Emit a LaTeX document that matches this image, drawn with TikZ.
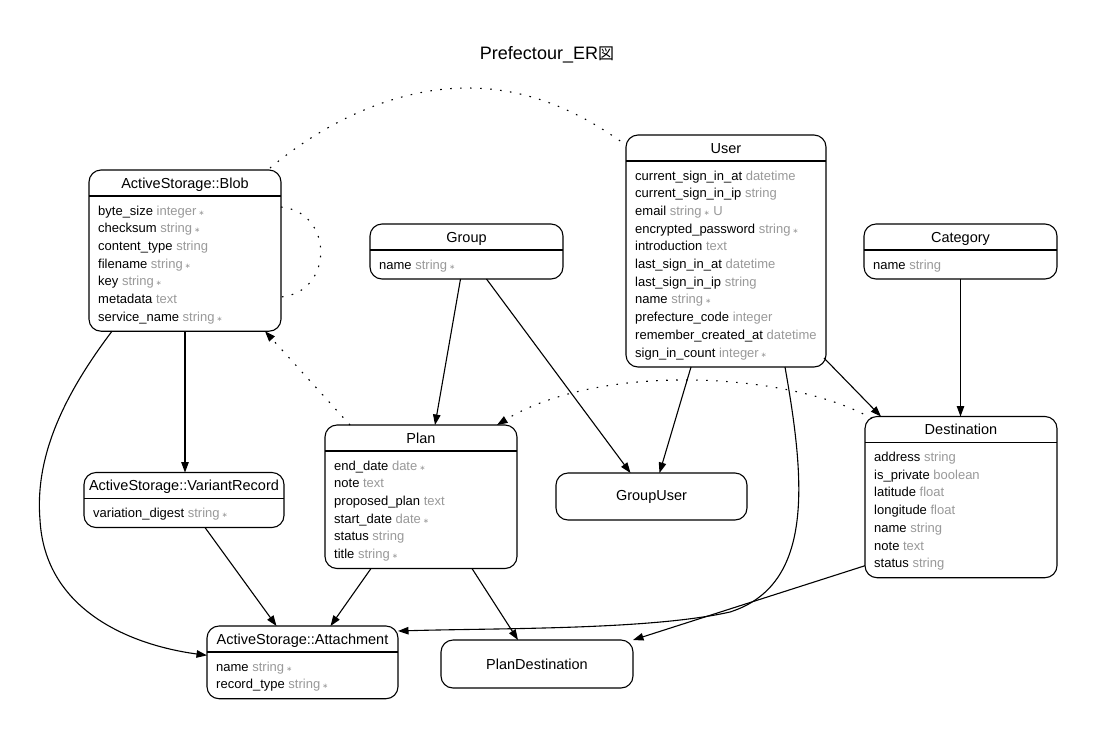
\documentclass[tikz,border=0pt]{standalone}
\usepackage{fontspec}
\setmainfont{Liberation Sans}
\newfontfamily\cjkfont{Noto Sans CJK JP}
\newfontfamily\symbfont{DejaVu Sans}
\usetikzlibrary{arrows.meta,calc}
\definecolor{typegray}{HTML}{999999}

% column type in grey, and the small mark for NOT NULL columns
\newcommand\ty[1]{\textcolor{typegray}{#1}}
\newcommand\nn{\textcolor{typegray}{\,{\symbfont\fontsize{7}{7}\selectfont ∗}}}

\tikzset{
  ebox/.style={draw, line width=1.1pt, rounded corners=12pt, inner sep=0pt,
               outer sep=0pt, anchor=north west},
  plainbox/.style={draw, line width=1.1pt, rounded corners=12pt, inner sep=0pt,
               outer sep=0pt, font=\fontsize{14.5}{14.5}\selectfont},
  boxline/.style={line width=1.1pt},
  etitle/.style={font=\fontsize{14.5}{14.5}\selectfont, inner sep=0pt, anchor=base},
  eattr/.style={font=\fontsize{13}{13}\selectfont, inner sep=0pt, anchor=base west},
  tip/.style={-{Triangle[length=10.5pt,width=7.5pt]}},
  rel/.style={line width=1.1pt, tip},
  poly/.style={line width=1.1pt, dash pattern=on 1.6pt off 8.4pt},
  polyarrow/.style={poly, tip},
}

% #1 name, #2 left, #3 top, #4 width, #5 number of columns, #6 title, #7 columns
\newcommand\erentity[7]{%
  \pgfmathsetmacro\erheight{26+29+(#5-1)*17.7}%
  \node[ebox, minimum width=#4pt, minimum height=\erheight pt] (#1) at (#2,#3) {};
  \draw[boxline] ($(#1.north west)+(0,26)$) -- ($(#1.north east)+(0,26)$);
  \node[etitle] (#1-title) at ($(#1.north)+(0,18.2)$) {#6};
  \foreach \a [count=\i from 0] in {#7} {
    \node[eattr] (#1-attr\i) at ($(#1.north west)+(9,45+\i*17.7)$) {\a};
  }
}

\begin{document}
\begin{tikzpicture}[x=1pt,y=-1pt]
\fill[white] (0,0) rectangle (1096,740);
\useasboundingbox (0,0) rectangle (1096,740);

\node[font=\fontsize{18}{18}\selectfont, anchor=base, inner sep=0pt] (title)
  at (547,59.5) {Prefectour\_ER{\cjkfont\fontsize{16}{16}\selectfont 図}};

% entities
\erentity{blob}{89}{170}{192}{7}{ActiveStorage::Blob}{byte\_size \ty{integer}\nn, checksum \ty{string}\nn, content\_type \ty{string}, filename \ty{string}\nn, key \ty{string}\nn, metadata \ty{text}, service\_name \ty{string}\nn}

\erentity{user}{626}{135}{200}{11}{User}{current\_sign\_in\_at \ty{datetime}, current\_sign\_in\_ip \ty{string}, email \ty{string}\nn\ \ty{U}, encrypted\_password \ty{string}\nn, introduction \ty{text}, last\_sign\_in\_at \ty{datetime}, last\_sign\_in\_ip \ty{string}, name \ty{string}\nn, prefecture\_code \ty{integer}, remember\_created\_at \ty{datetime}, sign\_in\_count \ty{integer}\nn}

\erentity{group}{370}{224}{193}{1}{Group}{name \ty{string}\nn}

\erentity{cat}{864}{224}{193}{1}{Category}{name \ty{string}}

\erentity{plan}{325}{425}{192}{6}{Plan}{end\_date \ty{date}\nn, note \ty{text}, proposed\_plan \ty{text}, start\_date \ty{date}\nn, status \ty{string}, title \ty{string}\nn}

\erentity{dest}{865}{416.5}{192}{7}{Destination}{address \ty{string}, is\_private \ty{boolean}, latitude \ty{float}, longitude \ty{float}, name \ty{string}, note \ty{text}, status \ty{string}}

\erentity{vr}{84}{472.5}{200}{1}{ActiveStorage::VariantRecord}{variation\_digest \ty{string}\nn}

\erentity{att}{207}{626}{191}{2}{ActiveStorage::Attachment}{name \ty{string}\nn, record\_type \ty{string}\nn}

\node[plainbox, minimum width=191pt, minimum height=47pt] (gu) at (651.5,496.5) {GroupUser};
\node[plainbox, minimum width=192pt, minimum height=48pt] (pd) at (537,664) {PlanDestination};

% associations
\draw[rel] (blob.south) -- (blob.south |- vr.north);
\draw[rel] ([xshift=-73pt]blob.south) .. controls (60,400) and (35,460) .. (40,520)
  .. controls (45,610) and (130,645) .. ([yshift=7pt]att.west);
\draw[rel] ([xshift=21pt]vr.south) -- ([xshift=-26pt]att.north);
\draw[rel] ([xshift=-50pt]plan.south) -- ([xshift=28pt]att.north);
\draw[rel] ([xshift=51pt]plan.south) -- ([xshift=-19pt]pd.north);
\draw[rel] ([xshift=-6pt]group.south) -- ([xshift=14pt]plan.north);
\draw[rel] ([xshift=20pt]group.south) -- ([xshift=-21pt]gu.north);
\draw[rel] (cat.south) -- (cat.south |- dest.north);
\draw[rel] ([xshift=-2pt,yshift=9pt]user.south east) -- ([xshift=16pt]dest.north west);
\draw[rel] ([xshift=-35pt]user.south) -- ([xshift=8pt]gu.north);
\draw[rel] ([xshift=59pt]user.south) .. controls (805,480) and (815,585) .. (730,612)
  .. controls (650,630) and (500,628) .. ([yshift=-5pt]att.north east);
\draw[rel] ([yshift=12pt]dest.south west) -- (pd.north east);

% polymorphic associations
\draw[polyarrow] ([xshift=25pt]plan.north west) -- ([xshift=-16pt]blob.south east);
\draw[polyarrow] ([xshift=7pt,yshift=-2pt]dest.north west) .. controls (790,372) and (600,362)
  .. ([xshift=-20pt]plan.north east);
\draw[poly] ([xshift=-11pt,yshift=2pt]blob.north east) .. controls (330,118) and (400,88) .. (467,88)
  .. controls (530,88) and (580,112) .. ([yshift=-10pt]user.north west);
\draw[poly] ([yshift=-37pt]blob.north east) .. controls (334,212) and (334,292)
  .. ([yshift=-127pt]blob.north east);
\end{tikzpicture}
\end{document}
